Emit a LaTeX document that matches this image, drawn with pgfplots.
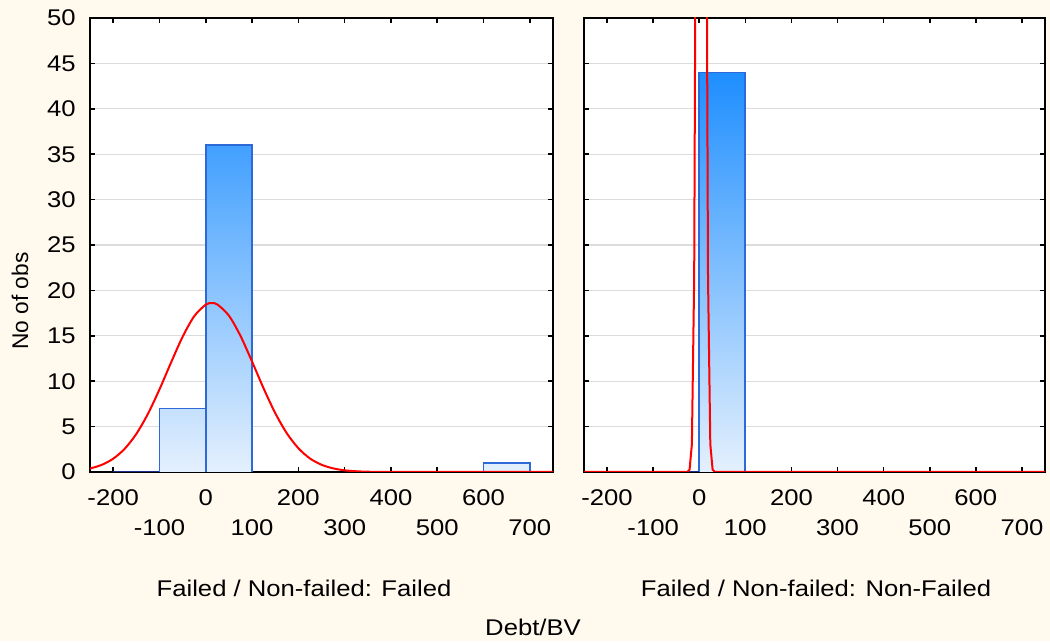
\documentclass[border=0pt]{standalone}
\usepackage{fontspec}
\setmainfont{Liberation Sans}[FakeStretch=1.13]
\newfontfamily\uprightlabel{Liberation Sans}
\usepackage{pgfplots}
\pgfplotsset{compat=1.18}
\usepgfplotslibrary{patchplots}

\definecolor{paper}{RGB}{255,249,238}
\definecolor{gridgray}{RGB}{220,220,220}
\definecolor{barline}{RGB}{45,105,215}
\definecolor{zerobar}{RGB}{25,45,140}
\definecolor{fitred}{RGB}{255,0,0}

\newcommand{\labelfont}{\fontsize{11.35}{13.5}\selectfont}

\pgfplotsset{
  panel/.style={
    scale only axis, height=227pt,
    xmin=-250, xmax=750, ymin=0, ymax=50,
    axis background/.style={fill=white},
    axis line style={line width=1.1pt},
    xtick={-200,0,200,400,600},
    extra x ticks={-100,100,300,500,700},
    extra x tick style={xticklabel style={yshift=-15pt}},
    ytick={0,5,...,50},
    ymajorgrids,
    grid style={gridgray, line width=0.6pt},
    tick style={black, line width=0.8pt},
    major tick length=2.5pt,
    tick align=inside,
    xticklabel style={inner sep=0pt, yshift=-8.5pt, font=\labelfont},
    yticklabel style={inner sep=0pt, xshift=-7pt, font=\labelfont},
    /pgf/number format/assume math mode=true,
    colormap={bars}{rgb255(0cm)=(228,240,253) rgb255(44cm)=(30,142,255) rgb255(50cm)=(20,130,255)},
    point meta min=0, point meta max=50,
  },
  outline/.style={barline, line width=0.9pt, mark=none},
  zeroline/.style={zerobar, line width=1.2pt, mark=none},
  fit/.style={fitred, line width=1pt, mark=none},
}

\begin{document}
\begin{tikzpicture}
\fill[paper] (0,0) rectangle (525pt,320.5pt);

% Failed firms
\begin{axis}[panel, width=231.5pt, at={(45pt,84.5pt)}, anchor=south west]
  \addplot[patch, patch type=rectangle, shader=interp, point meta=explicit] coordinates {
    (-100,0) [0] (0,0) [0] (0,7) [7] (-100,7) [7]
    (0,0) [0] (100,0) [0] (100,36) [36] (0,36) [36]
    (600,0) [0] (700,0) [0] (700,1) [1] (600,1) [1]
  };
  \addplot[outline] coordinates {(-100,0) (-100,7) (0,7) (0,0)};
  \addplot[outline] coordinates {(0,0) (0,36) (100,36) (100,0)};
  \addplot[outline] coordinates {(600,0) (600,1) (700,1) (700,0)};
  \addplot[zeroline] coordinates {(-200,0) (-100,0)};
  \addplot[fit, smooth] coordinates {
    (-250,0.38) (-225,0.78) (-200,1.46) (-175,2.56) (-150,4.19) (-125,6.39)
    (-100,9.09) (-75,12.05) (-50,14.89) (-25,17.15) (0,18.43) (13,18.6)
    (25,18.45) (50,17.22) (75,14.99) (100,12.16) (125,9.20) (150,6.49)
    (175,4.27) (200,2.62) (225,1.49) (250,0.80) (275,0.40) (300,0.18)
    (325,0.08) (350,0.03) (400,0.003) (450,0) (750,0)
  };
\end{axis}

% Non-failed firms
\begin{axis}[panel, width=230.5pt, at={(292pt,84.5pt)}, anchor=south west, yticklabels={}]
  \addplot[patch, patch type=rectangle, shader=interp, point meta=explicit] coordinates {
    (0,0) [0] (100,0) [0] (100,44) [44] (0,44) [44]
  };
  \addplot[outline] coordinates {(0,0) (0,44) (100,44) (100,0)};
  \addplot[zeroline] coordinates {(-200,0) (0,0)};
  \addplot[fit] coordinates {
    (-250,0) (-26,0.01) (-21,0.25) (-16,3.05) (-11,21.4) (-6,86) (-1,198)
    (4,262) (9,198) (14,86) (19,21.4) (24,3.05) (29,0.25) (34,0.01) (750,0)
  };
\end{axis}

\node[font=\labelfont, anchor=base] at (152pt,22pt) {Failed / Non-failed: Failed};
\node[font=\labelfont, anchor=base] at (408pt,22pt) {Failed / Non-failed: Non-Failed};
\node[font=\labelfont, anchor=base] at (266.5pt,2.5pt) {Debt/BV};
\node[font=\uprightlabel\labelfont, anchor=base, rotate=90] at (14pt,170pt) {No of obs};
\end{tikzpicture}
\end{document}
